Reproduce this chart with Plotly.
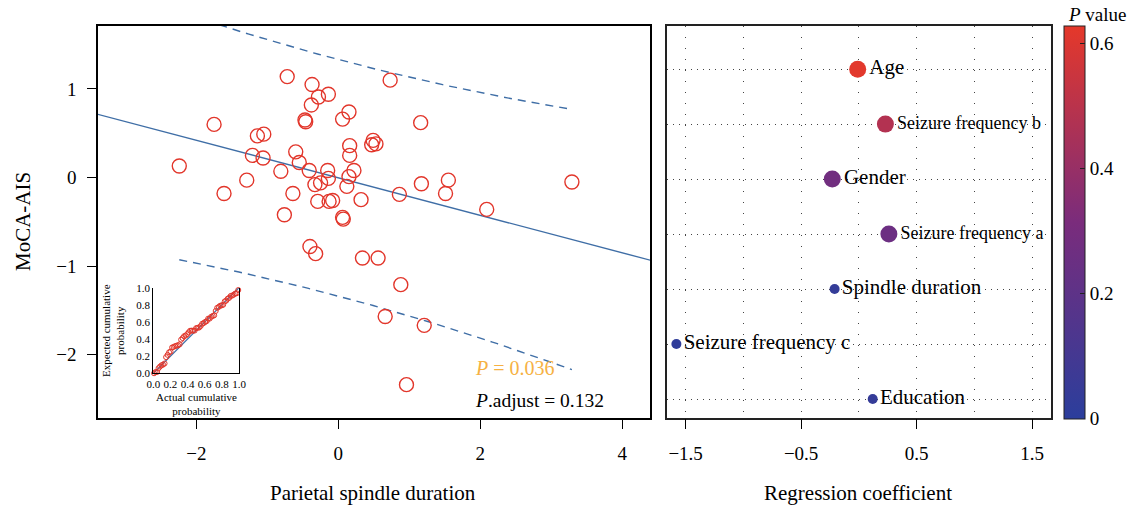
import math
import numpy as np
import plotly.graph_objects as go

# ---------------- data ----------------
spindle_duration = [-2.24, -1.75, -1.61, -1.29, -1.21, -1.14, -1.05, -1.06, -0.81, -0.76,
                    -0.72, -0.64, -0.60, -0.55, -0.47, -0.46, -0.41, -0.38, -0.37, -0.28,
                    -0.33, -0.25, -0.14, -0.15, -0.14, -0.29, -0.13, -0.08, 0.06, 0.15,
                    0.12, 0.15, 0.16, 0.16, 0.22, 0.32, 0.06, 0.07, 0.49, 0.47,
                    0.53, 0.73, 1.16, 0.86, 1.17, 1.55, 1.51, 2.09, 3.29, -0.40,
                    -0.32, 0.34, 0.56, 0.88, 0.66, 1.21, 0.96]
moca_ais = [0.13, 0.60, -0.18, -0.03, 0.25, 0.47, 0.49, 0.22, 0.07, -0.42,
            1.14, -0.18, 0.29, 0.17, 0.65, 0.63, 0.08, 0.82, 1.05, 0.91,
            -0.08, -0.06, 0.94, 0.08, -0.01, -0.27, -0.27, -0.26, 0.66, 0.74,
            -0.10, 0.01, 0.36, 0.25, 0.08, -0.25, -0.45, -0.47, 0.42, 0.37,
            0.38, 1.10, 0.62, -0.19, -0.07, -0.03, -0.18, -0.36, -0.05, -0.78,
            -0.86, -0.91, -0.91, -1.21, -1.57, -1.67, -2.34]
assert len(spindle_duration) == len(moca_ais)

p_text = "<i>P</i> = 0.036"
padj_text = "<i>P</i>.adjust = 0.132"

factors = ["Age", "Seizure frequency b", "Gender", "Seizure frequency a",
           "Spindle duration", "Seizure frequency c", "Education"]
coefficients = [-0.01, 0.23, -0.23, 0.26, -0.21, -1.58, 0.12]
p_values = [0.62, 0.48, 0.28, 0.26, 0.036, 0.02, 0.04]

x_ticks_left = [-2, 0, 2, 4]
y_ticks_left = [-2, -1, 0, 1]
x_ticks_right = [-1.5, -0.5, 0.5, 1.5]
cbar_ticks = [0, 0.2, 0.4, 0.6]

# ---------------- styles ----------------
FONT = "Liberation Serif"
RED = "#E2362B"
BLUE = "#3F6EA6"
W, H = 1134, 510

def px(v):
    return v / W

def py(v):
    return (H - v) / H

# ---------------- regression ----------------
x = np.array(spindle_duration)
y = np.array(moca_ais)
n = len(x)
slope, intercept = np.polyfit(x, y, 1)
fit = intercept + slope * x
resid = y - fit
s = math.sqrt(np.sum(resid ** 2) / (n - 2))
xbar = x.mean()
sxx = np.sum((x - xbar) ** 2)
t_crit = 2.004

x_line = np.linspace(-3.4, 4.4, 50)
y_line = intercept + slope * x_line
x_band = np.linspace(x.min(), x.max(), 80)
half = t_crit * s * np.sqrt(1 + 1 / n + (x_band - xbar) ** 2 / sxx)
upper = intercept + slope * x_band + half
lower = intercept + slope * x_band - half

# P-P plot of standardized residuals
z = np.sort((resid - resid.mean()) / resid.std(ddof=1))
expected = np.array([0.5 * (1 + math.erf(v / math.sqrt(2))) for v in z])
actual = (np.arange(1, n + 1) - 0.5) / n

fig = go.Figure()

fig.add_trace(go.Scatter(x=x_line, y=y_line, mode="lines",
                         line=dict(color=BLUE, width=1.4), xaxis="x", yaxis="y",
                         hoverinfo="skip", showlegend=False))
fig.add_trace(go.Scatter(x=x_band, y=upper, mode="lines",
                         line=dict(color=BLUE, width=1.4, dash="8px,6px"),
                         xaxis="x", yaxis="y", showlegend=False))
fig.add_trace(go.Scatter(x=x_band, y=lower, mode="lines",
                         line=dict(color=BLUE, width=1.4, dash="8px,6px"),
                         xaxis="x", yaxis="y", showlegend=False))
fig.add_trace(go.Scatter(x=spindle_duration, y=moca_ais, mode="markers",
                         marker=dict(symbol="circle-open", size=14, color=RED,
                                     opacity=1, line=dict(width=1.4)),
                         xaxis="x", yaxis="y", showlegend=False))

# inset
fig.add_trace(go.Scatter(x=[0, 1], y=[0, 1], mode="lines",
                         line=dict(color=BLUE, width=1.2),
                         xaxis="x3", yaxis="y3", showlegend=False))
fig.add_trace(go.Scatter(x=actual, y=expected, mode="markers",
                         marker=dict(symbol="circle-open", size=5, color=RED,
                                     opacity=1, line=dict(width=1)),
                         xaxis="x3", yaxis="y3", showlegend=False, cliponaxis=False))

# right panel
sizes = [17 if p >= 0.05 else 10 for p in p_values]
text_sizes = [18 if "frequency a" in f or "frequency b" in f else 21 for f in factors]
fig.add_trace(go.Scatter(
    x=coefficients, y=factors, mode="markers+text",
    text=factors, textposition="middle right",
    textfont=dict(family=FONT, size=text_sizes, color="black"),
    marker=dict(size=sizes, color=p_values, cmin=0, cmax=0.628, opacity=1,
                colorscale=[[0, "#2B3E9C"], [0.5, "#7A2C7C"], [1, "#E5382A"]],
                line=dict(width=0),
                showscale=True,
                colorbar=dict(
                    x=px(1064.3), xanchor="left", xpad=0,
                    y=py(25.7), yanchor="top", ypad=0,
                    len=393.3 / H, lenmode="fraction",
                    thickness=21, thicknessmode="pixels",
                    outlinewidth=1, outlinecolor="#222",
                    tickvals=cbar_ticks, ticktext=["0", "0.2", "0.4", "0.6"],
                    ticks="inside", ticklen=5, tickcolor="#222",
                    tickfont=dict(family=FONT, size=19, color="black"),
                )),
    xaxis="x2", yaxis="y2", showlegend=False, cliponaxis=False))

# invisible anchors for tick-mark-only overlay axes
for xa, ya in (("x4", "y"), ("x", "y4"), ("x5", "y2")):
    fig.add_trace(go.Scatter(x=[None], y=[None], mode="markers", xaxis=xa, yaxis=ya,
                             showlegend=False, hoverinfo="skip"))

TICKFONT = dict(family=FONT, size=19, color="black")
frame = dict(showline=True, linecolor="black", linewidth=1.5, mirror=True,
             showgrid=False, zeroline=False, automargin=False)
tickonly = dict(showline=False, showgrid=False, zeroline=False, automargin=False,
                showticklabels=False, ticks="outside", ticklen=10, tickwidth=1.4,
                tickcolor="black")

fig.update_layout(
    width=W, height=H,
    margin=dict(l=0, r=0, t=0, b=0, autoexpand=False),
    paper_bgcolor="white", plot_bgcolor="white",
    font=dict(family=FONT, color="black"),
    showlegend=False,
    xaxis=dict(domain=[px(98), px(650)], range=[-3.385, 4.39], anchor="y",
               tickvals=x_ticks_left, ticks="", ticklabelstandoff=17,
               tickfont=TICKFONT, **frame),
    yaxis=dict(domain=[py(418.3), py(25.7)], range=[-2.72, 1.715], anchor="x",
               tickvals=y_ticks_left, ticks="", ticklabelstandoff=16,
               tickfont=TICKFONT, **frame),
    xaxis4=dict(overlaying="x", range=[-3.385, 4.39], anchor="y", side="bottom",
                tickvals=x_ticks_left, **tickonly),
    yaxis4=dict(overlaying="y", range=[-2.72, 1.715], anchor="x", side="left",
                tickvals=y_ticks_left, **tickonly),
    xaxis2=dict(domain=[px(666.7), px(1051)], range=[-1.664, 1.664], anchor="y2",
                tickvals=x_ticks_right, ticks="", ticklabelstandoff=17, automargin=False,
                showline=True, linecolor="#222", linewidth=1.5, mirror=True,
                zeroline=False,
                showgrid=True, gridcolor="#444", gridwidth=1.2, griddash="1.5px,9.5px",
                minor=dict(tickvals=[-1, 0, 1], showgrid=True, gridcolor="#444",
                           gridwidth=1.2, griddash="1.5px,9.5px", ticks=""),
                tickfont=TICKFONT),
    xaxis5=dict(overlaying="x2", range=[-1.664, 1.664], anchor="y2", side="bottom",
                tickvals=x_ticks_right, **tickonly),
    yaxis2=dict(domain=[py(418.3), py(25.7)], anchor="x2", automargin=False,
                type="category", categoryorder="array",
                categoryarray=factors[::-1], range=[-0.35, 6.79],
                showticklabels=False, ticks="",
                showline=True, linecolor="#222", linewidth=1.5, mirror=True,
                zeroline=False,
                showgrid=True, gridcolor="#444", gridwidth=1.2, griddash="1.5px,4.5px"),
    xaxis3=dict(domain=[px(153.3), px(239)], range=[0, 1], anchor="y3",
                dtick=0.2, tick0=0, tickformat=".1f", automargin=False,
                showline=True, linecolor="black", linewidth=1.2, mirror=False,
                ticks="", showgrid=False, zeroline=False,
                tickfont=dict(family=FONT, size=11, color="black")),
    yaxis3=dict(domain=[py(373.3), py(287.7)], range=[0, 1], anchor="x3",
                dtick=0.2, tick0=0, tickformat=".1f", automargin=False,
                showline=True, linecolor="black", linewidth=1.2, mirror=True,
                ticks="", showgrid=False, zeroline=False,
                tickfont=dict(family=FONT, size=11, color="black")),
    annotations=[
        dict(text="MoCA-AIS", x=px(23), y=py(222), xref="paper", yref="paper",
             xanchor="center", yanchor="middle",
             textangle=-90, showarrow=False, font=dict(family=FONT, size=21)),
        dict(text="Parietal spindle duration", x=px(373), y=py(493),
             xanchor="center", yanchor="middle",
             xref="paper", yref="paper", showarrow=False, font=dict(family=FONT, size=21)),
        dict(text="Regression coefficient", x=px(858), y=py(493),
             xanchor="center", yanchor="middle",
             xref="paper", yref="paper", showarrow=False, font=dict(family=FONT, size=21)),
        dict(text=p_text, x=px(473), y=py(368), xref="paper", yref="paper",
             xanchor="left", yanchor="middle", showarrow=False,
             font=dict(family=FONT, size=20, color="#F6B143")),
        dict(text=padj_text, x=px(473), y=py(400), xref="paper", yref="paper",
             xanchor="left", yanchor="middle", showarrow=False,
             font=dict(family=FONT, size=19.5, color="black")),
        dict(text="Actual cumulative<br>probability", x=px(196), y=py(404),
             xanchor="center", yanchor="middle",
             xref="paper", yref="paper", showarrow=False,
             font=dict(family=FONT, size=11)),
        dict(text="Expected cumulative<br>probability", x=px(113), y=py(331),
             xanchor="center", yanchor="middle",
             xref="paper", yref="paper", textangle=-90, showarrow=False,
             font=dict(family=FONT, size=11)),
        dict(text="<i>P</i> value", x=px(1066), y=py(14),
             xanchor="left", yanchor="middle",
             xref="paper", yref="paper", showarrow=False,
             font=dict(family=FONT, size=19)),
    ],
)

fig.write_html("out.html")
